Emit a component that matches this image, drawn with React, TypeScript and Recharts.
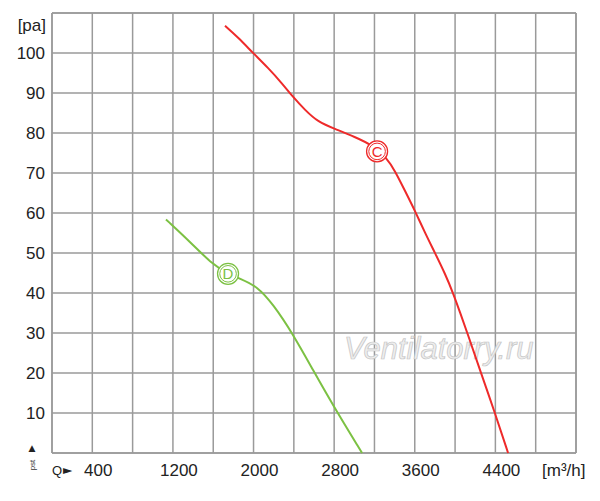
import { LineChart, Line, XAxis, YAxis, CartesianGrid, ReferenceDot, ReferenceLine } from "recharts";

/* ── 축 눈금 ── */
const GRID_Q = [0, 400, 800, 1200, 1600, 2000, 2400, 2800, 3200, 3600, 4000, 4400, 4800, 5200];
const LABEL_Q = [400, 1200, 2000, 2800, 3600, 4400];
const GRID_P = [0, 10, 20, 30, 40, 50, 60, 70, 80, 90, 100, 110];
const LABEL_P = [10, 20, 30, 40, 50, 60, 70, 80, 90, 100];

/* ── 곡선 C (빨강) ── */
const C_Q = [1717, 1846, 1995, 2144, 2283, 2392, 2511, 2640, 2809, 3007, 3176, 3325, 3404, 3504, 3603, 3702, 3801, 3901, 3980, 4050, 4119, 4248, 4397, 4526];
const C_P = [106.8, 103.9, 100, 96.3, 92.4, 89.0, 85.75, 82.75, 81.0, 79.0, 77.0, 73.7, 70.5, 65.5, 60.5, 55.0, 50.0, 44.8, 40.0, 35.1, 30.2, 20.7, 9.9, 0];

/* ── 곡선 D (초록) ── */
const D_Q = [1131, 1370, 1598, 1747, 1866, 2035, 2194, 2392, 2591, 2789, 3077];
const D_P = [58.4, 52.8, 47.0, 44.8, 43.6, 41.7, 37.2, 29.7, 20.7, 11.9, 0];

/* ── 곡선 표식 ── */
const MARKERS = [
  { name: "C", q: 3226, p: 75.4 },
  { name: "D", q: 1747, p: 44.8 },
];

const RED = "#ee2a2a";
const GREEN = "#7cc143";
const GRID = "#9a9a9a";
const FONT = "'Liberation Sans', Arial, sans-serif";
const MARK_COLOR: Record<string, string> = { C: RED, D: GREEN };

const cData = C_Q.map((q, i) => ({ q, p: C_P[i] }));
const dData = D_Q.map((q, i) => ({ q, p: D_P[i] }));

function QTick({ x, y, payload }: { x?: number; y?: number; payload?: { value: number } }) {
  if (!payload || !LABEL_Q.includes(payload.value)) return null;
  return (
    <text x={(x ?? 0) + 6} y={(y ?? 0) + 15} textAnchor="middle" fontSize={17} fill="#222" fontFamily={FONT}>
      {payload.value}
    </text>
  );
}

function PTick({ y, payload }: { y?: number; payload?: { value: number } }) {
  if (!payload || !LABEL_P.includes(payload.value)) return null;
  return (
    <text x={45} y={(y ?? 0) + 6} textAnchor="end" fontSize={17} fill="#222" fontFamily={FONT}>
      {payload.value}
    </text>
  );
}

function Marker(color: string, name: string) {
  return (props: { cx?: number; cy?: number }) => {
    const cx = props.cx ?? 0;
    const cy = props.cy ?? 0;
    return (
      <g>
        <circle cx={cx} cy={cy} r={10.5} fill="#fff" stroke={color} strokeWidth={1.3} />
        <circle cx={cx} cy={cy} r={8.3} fill="#fff" stroke={color} strokeWidth={1} />
        <text x={cx} y={cy + 5.5} textAnchor="middle" fontSize={15} fill={color} fontFamily={FONT}>
          {name}
        </text>
      </g>
    );
  };
}

export default function App() {
  return (
    <div style={{ position: "absolute", left: 0, top: 0, width: 600, height: 501, background: "#fff" }}>
      <LineChart width={600} height={501} margin={{ top: 13, right: 24, bottom: 18, left: 0 }}>
        <CartesianGrid stroke={GRID} strokeWidth={1.5} />
        <XAxis
          type="number"
          dataKey="q"
          domain={[0, 5200]}
          ticks={GRID_Q}
          interval={0}
          height={30}
          axisLine={false}
          tickLine={false}
          tick={<QTick />}
        />
        <YAxis
          type="number"
          dataKey="p"
          domain={[0, 110]}
          ticks={GRID_P}
          interval={0}
          width={52}
          axisLine={false}
          tickLine={false}
          tick={<PTick />}
        />
        <ReferenceLine x={GRID_Q[0]} stroke={GRID} strokeWidth={1.5} />
        <ReferenceLine x={GRID_Q[GRID_Q.length - 1]} stroke={GRID} strokeWidth={1.5} />
        <ReferenceLine y={GRID_P[0]} stroke={GRID} strokeWidth={1.5} />
        <ReferenceLine y={GRID_P[GRID_P.length - 1]} stroke={GRID} strokeWidth={1.5} />
        <text
          x={344}
          y={359}
          fontSize={31}
          fontStyle="italic"
          fontFamily={FONT}
          fill="#eeeeee"
          stroke="#c4c4c4"
          strokeWidth={0.7}
        >
          Ventilatorry.ru
        </text>
        <Line data={cData} dataKey="p" type="basis" stroke={RED} strokeWidth={2} dot={false} isAnimationActive={false} />
        <Line data={dData} dataKey="p" type="basis" stroke={GREEN} strokeWidth={2} dot={false} isAnimationActive={false} />
        {MARKERS.map((m) => (
          <ReferenceDot key={m.name} x={m.q} y={m.p} r={10} shape={Marker(MARK_COLOR[m.name], m.name)} />
        ))}
        <text x={46} y={31} textAnchor="end" fontSize={17} fill="#222" fontFamily={FONT}>
          [pa]
        </text>
        <text x={542} y={476} fontSize={17} fill="#222" fontFamily={FONT}>
          [m³/h]
        </text>
        <text x={52} y={475} fontSize={13} fill="#222" fontFamily={FONT}>
          Q
        </text>
        <text x={63} y={474} fontSize={12} fill="#222" fontFamily="'DejaVu Sans', sans-serif">
          ►
        </text>
        <text x={32} y={451} textAnchor="middle" fontSize={9} fill="#222" fontFamily="'DejaVu Sans', sans-serif">
          ▲
        </text>
        <text x={35} y={465} textAnchor="middle" fontSize={8} fill="#333" fontFamily={FONT} transform="rotate(-90 35 465)">
          pst
        </text>
      </LineChart>
    </div>
  );
}
